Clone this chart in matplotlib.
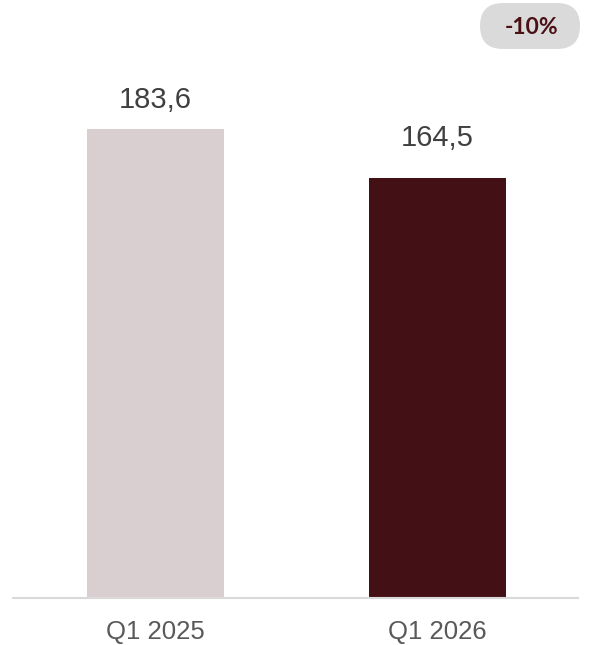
import matplotlib
matplotlib.use("Agg")
import matplotlib.pyplot as plt
from matplotlib.patches import FancyBboxPatch

categories = ["Q1 2025", "Q1 2026"]
values = [183.6, 164.5]
value_labels = ["183,6", "164,5"]
change_label = "-10%"
bar_colors = ["#d9cfd1", "#431115"]
label_gap_pt = [15.0, 23.0]

fig = plt.figure(figsize=(5.9, 6.45), dpi=100)
ax = fig.add_axes([13/590, 47/645, 565/590, 598/645])

x = list(range(len(categories)))
ax.bar(x, values, width=0.486, color=bar_colors, zorder=2)
ax.set_xlim(-0.505, 1.498)
ax.set_ylim(0, 598/2.554)

for xi, v, lab, g in zip(x, values, value_labels, label_gap_pt):
    ax.annotate(lab, (xi, v), xytext=(0, g), textcoords="offset points",
                ha="center", va="baseline", fontsize=21, color="#404040",
                family="Liberation Sans")

for s in ["top", "right", "left"]:
    ax.spines[s].set_visible(False)
ax.spines["bottom"].set_color("#d9d9d9")
ax.spines["bottom"].set_linewidth(1.5)
ax.set_yticks([])
ax.set_xticks(x)
ax.set_xticklabels(categories, fontsize=18.5, color="#595959", family="Liberation Sans")
ax.tick_params(axis="x", length=0, pad=16)

pill = FancyBboxPatch((4.80, 5.96), 1.00, 0.46,
                      boxstyle="round,pad=0,rounding_size=0.23",
                      transform=fig.dpi_scale_trans, facecolor="#dadada",
                      edgecolor="none")
fig.patches.append(pill)
fig.text(532/590, 1 - 28/645, change_label, ha="center", va="center",
         fontsize=16.5, fontweight="bold", color="#4a1014", family="Lato")

fig.savefig("out.png", dpi=100)
